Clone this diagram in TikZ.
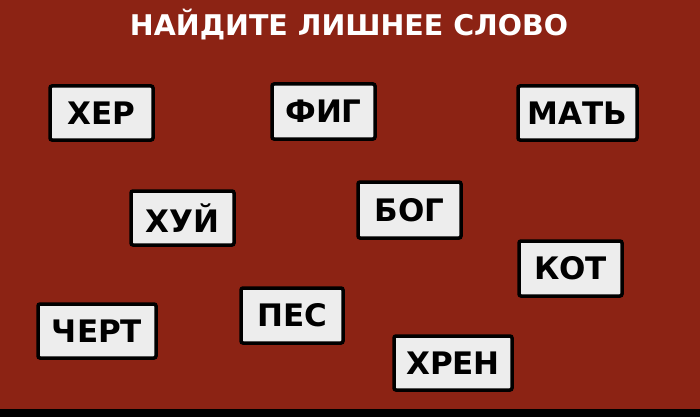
\documentclass[tikz,border=0pt]{standalone}
\usepackage{fontspec}
\setmainfont{DejaVu Sans}
\definecolor{bg}{HTML}{8C2314}
\definecolor{boxfill}{HTML}{EDEDED}
\begin{document}
\begin{tikzpicture}[x=1pt,y=-1pt,
  word/.style={draw=black,line width=3.5pt,fill=boxfill,rounded corners=2pt,font=\bfseries\fontsize{31}{31}\selectfont,text=black,inner sep=0pt}]
\useasboundingbox (0,0) rectangle (700,417);
\fill[bg] (0,0) rectangle (700,409);
\fill[black] (0,409) rectangle (700,417);
\node[text=white,font=\bfseries\fontsize{28.5}{28.5}\selectfont] (title) at (349,25) {НАЙДИТЕ ЛИШНЕЕ СЛОВО};
\newcommand\wbox[6]{\node[word,minimum width=#4-#2,minimum height=#5-#3] (#1) at ({(#2+#4)/2},{(#3+#5)/2}) {#6};}
\wbox{a}{50}{86}{153}{140}{ХЕР}
\wbox{b}{272}{84}{375}{139}{ФИГ}
\wbox{c}{518}{86}{637}{140}{МАТЬ}
\wbox{d}{131}{191}{234}{245}{ХУЙ}
\wbox{e}{358}{182}{461}{238}{БОГ}
\wbox{f}{519}{241}{622}{296}{КОТ}
\wbox{g}{38}{304}{156}{358}{ЧЕРТ}
\wbox{h}{241}{288}{343}{343}{ПЕС}
\wbox{i}{394}{336}{512}{390}{ХРЕН}
\end{tikzpicture}
\end{document}
